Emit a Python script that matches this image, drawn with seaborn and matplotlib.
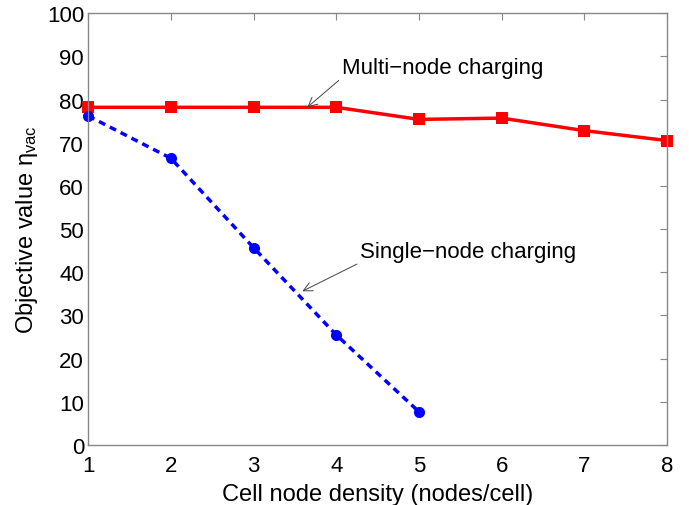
import numpy as np
import pandas as pd
import matplotlib
matplotlib.use('Agg')
import matplotlib.pyplot as plt
import seaborn as sns

multi_x = [1, 2, 3, 4, 5, 6, 7, 8]
multi_y = [78.2, 78.2, 78.2, 78.2, 75.4, 75.7, 72.8, 70.5]
single_x = [1, 2, 3, 4, 5]
single_y = [76.2, 66.4, 45.7, 25.5, 7.7]

sns.set_style('white')
plt.rcParams['font.family'] = ['Liberation Sans', 'DejaVu Sans']
plt.rcParams['text.color'] = 'black'
plt.rcParams['axes.labelcolor'] = 'black'
plt.rcParams['xtick.color'] = 'black'
plt.rcParams['ytick.color'] = 'black'

fig = plt.figure(figsize=(6.89, 5.06), dpi=100)
ax = fig.add_axes([0.128, 0.1186, 0.840, 0.8534])

df_multi = pd.DataFrame({'x': multi_x, 'y': multi_y})
df_single = pd.DataFrame({'x': single_x, 'y': single_y})

sns.lineplot(data=df_multi, x='x', y='y', ax=ax, color='#ff0000', lw=2.5,
             marker='s', markersize=8, markeredgewidth=0, clip_on=False)
sns.lineplot(data=df_single, x='x', y='y', ax=ax, color='#0000ff', lw=2.5,
             linestyle=(0, (2, 1.5)), marker='o', markersize=8,
             markeredgewidth=0, clip_on=False)

ax.set_xlim(1, 8)
ax.set_ylim(0, 100)
ax.set_xticks(range(1, 9))
ax.set_yticks(range(0, 101, 10))
ax.tick_params(direction='in', length=5, labelsize=16, top=True, right=True,
               color='#888888')
ax.tick_params(axis='x', pad=7)
ax.tick_params(axis='y', pad=3)
for s in ax.spines.values():
    s.set_color('#888888')
    s.set_linewidth(1)

ax.set_xlabel('Cell node density (nodes/cell)', fontsize=17, labelpad=5)
ax.set_ylabel(r'Objective value $\mathregular{\eta_{vac}}$', fontsize=17, labelpad=5)

ax.annotate('Multi\u2212node charging', xy=(3.65, 78.2), xytext=(4.07, 87.5),
            fontsize=16, va='center', ha='left',
            arrowprops=dict(arrowstyle='->', color='#444444', lw=0.7,
                            shrinkA=0, shrinkB=0, relpos=(0, 0)))
ax.annotate('Single\u2212node charging', xy=(3.59, 35.6), xytext=(4.29, 44.7),
            fontsize=16, va='center', ha='left',
            arrowprops=dict(arrowstyle='->', color='#444444', lw=0.7,
                            shrinkA=0, shrinkB=0, relpos=(0, 0)))

fig.savefig('out.png', dpi=100)
